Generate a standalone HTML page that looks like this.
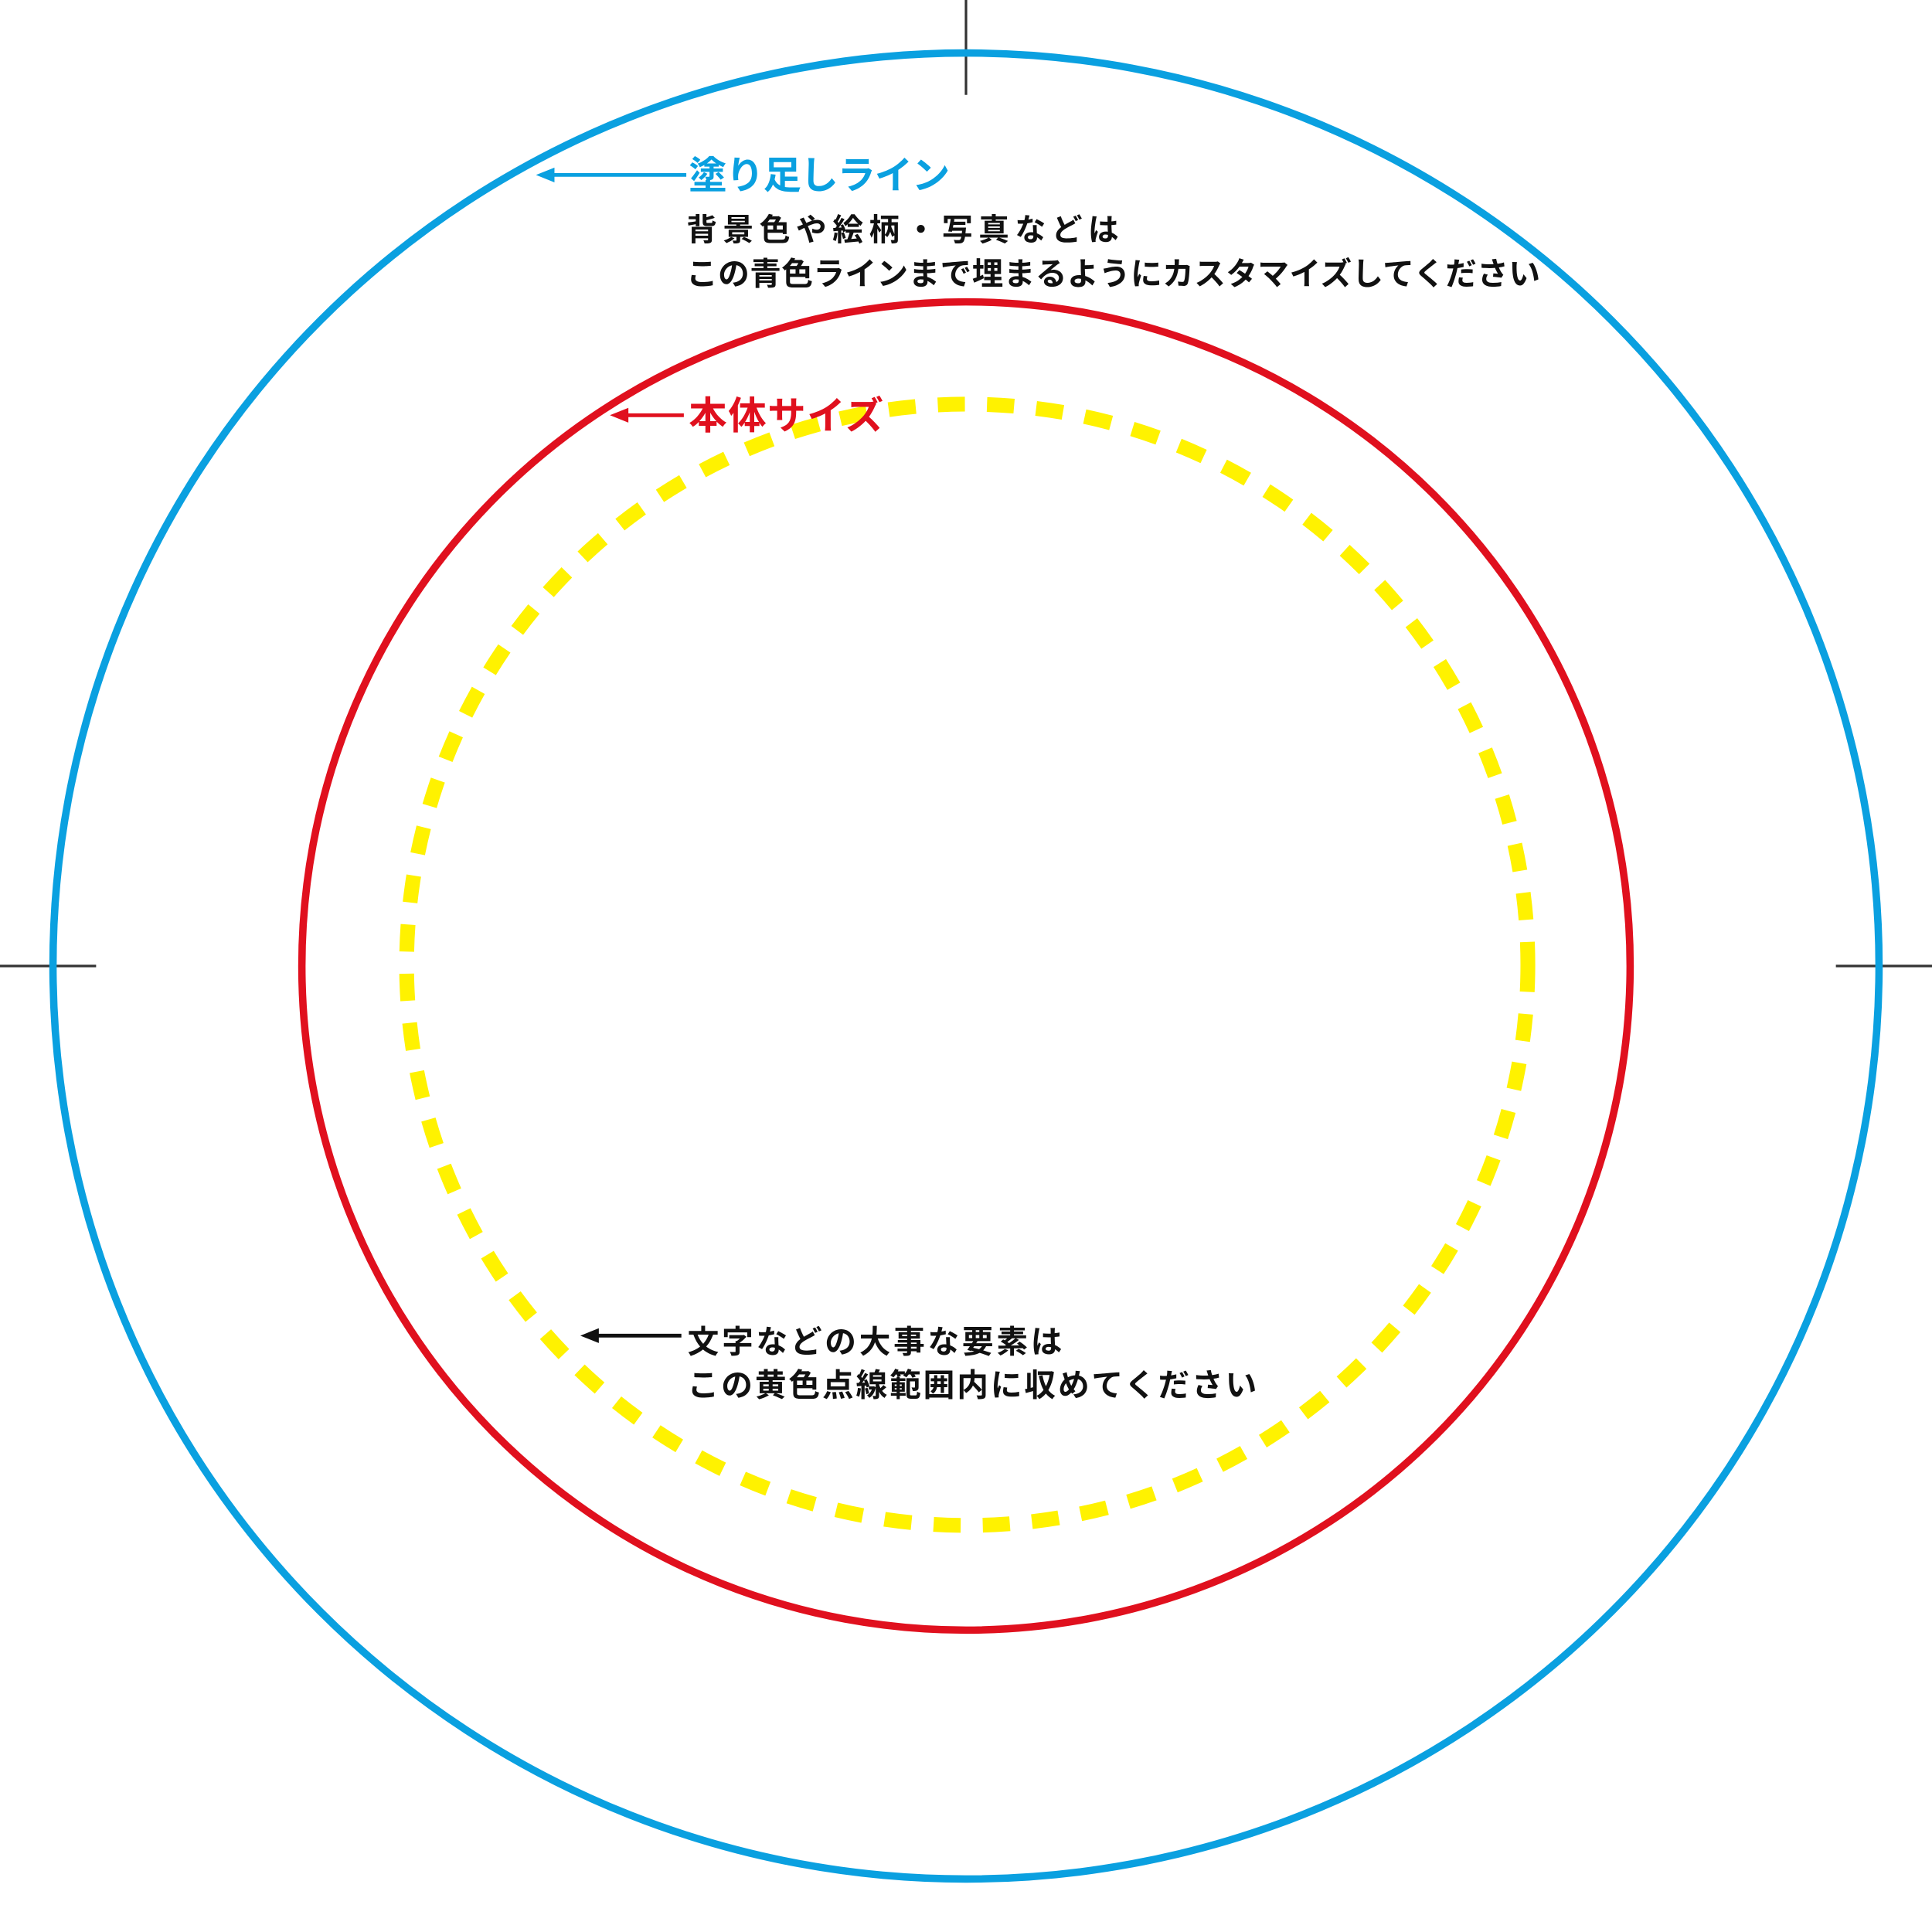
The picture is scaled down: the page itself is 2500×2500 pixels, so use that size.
<!DOCTYPE html>
<html><head><meta charset="utf-8"><style>
html,body{margin:0;padding:0;background:#fff;}
svg{display:block;}
text{font-family:"Liberation Sans","Noto Sans CJK JP",sans-serif;font-weight:bold;}
</style></head><body>
<svg width="2500" height="2500" viewBox="0 0 1568 1568" xmlns="http://www.w3.org/2000/svg">
<rect width="1568" height="1568" fill="#fff"/>
<line x1="784" y1="0" x2="784" y2="77" stroke="#333" stroke-width="2"/>
<line x1="0" y1="784" x2="78" y2="784" stroke="#333" stroke-width="2"/>
<line x1="1490" y1="784" x2="1568" y2="784" stroke="#333" stroke-width="2"/>
<circle cx="784" cy="784" r="741" fill="none" stroke="#0aa0e0" stroke-width="6"/>
<circle cx="784" cy="784" r="539" fill="none" stroke="#e0101e" stroke-width="6"/>
<circle cx="785" cy="783" r="455" fill="none" stroke="#fff200" stroke-width="12" stroke-dasharray="22 18"/>
<line x1="445" y1="142" x2="557" y2="142" stroke="#0aa0e0" stroke-width="3"/>
<polygon points="435,142 450,136 450,148" fill="#0aa0e0"/>
<text x="559" y="153" font-size="31" fill="#0aa0e0" textLength="212" lengthAdjust="spacing">塗り足しライン</text>
<text x="557" y="195" font-size="25" fill="#111" textLength="351" lengthAdjust="spacing">背景色や絵柄・写真などは</text>
<text x="557" y="231" font-size="25.5" fill="#111" textLength="693" lengthAdjust="spacing">この青色ラインまで埋まるようにカスタマイズしてください</text>
<line x1="505" y1="337" x2="555" y2="337" stroke="#e0101e" stroke-width="3"/>
<polygon points="495,337 510,331 510,343" fill="#e0101e"/>
<text x="559" y="348" font-size="31" fill="#e0101e" textLength="158" lengthAdjust="spacing">本体サイズ</text>
<line x1="482" y1="1084" x2="553" y2="1084" stroke="#111" stroke-width="3"/>
<polygon points="471,1084 486,1078 486,1090" fill="#111"/>
<text x="558" y="1098" font-size="25.5" fill="#111" textLength="304" lengthAdjust="spacing">文字などの大事な要素は</text>
<text x="558" y="1133" font-size="25.5" fill="#111" textLength="462" lengthAdjust="spacing">この黄色点線範囲内に収めてください</text>
</svg>
</body></html>
